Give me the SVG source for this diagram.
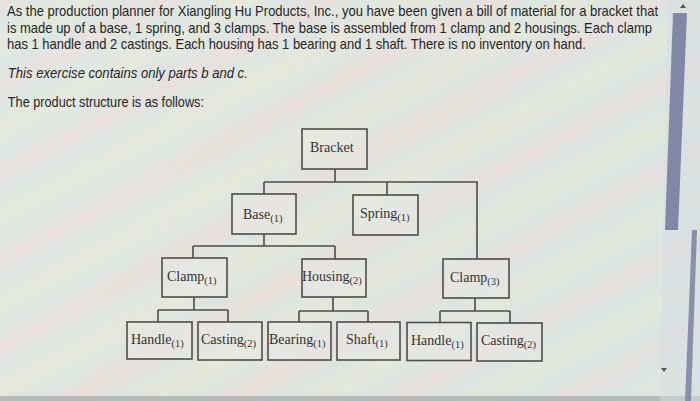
<svg xmlns="http://www.w3.org/2000/svg" width="700" height="401" viewBox="0 0 700 401">
<defs>
<linearGradient id="bg" x1="0" y1="0" x2="700" y2="401" gradientUnits="userSpaceOnUse">
<stop offset="0" stop-color="#e4e8e2"/>
<stop offset="0.5" stop-color="#e6e4dc"/>
<stop offset="1" stop-color="#dde6e2"/>
</linearGradient>
<linearGradient id="stripes" x1="0" y1="0" x2="18" y2="34" gradientUnits="userSpaceOnUse" spreadMethod="reflect">
<stop offset="0" stop-color="#f0d6d6"/>
<stop offset="0.5" stop-color="#cfe6e6"/>
<stop offset="1" stop-color="#e8ecd2"/>
</linearGradient>
<style>
.t{font-family:"Liberation Sans",Arial,sans-serif;font-size:14px;fill:#262626}
.i{font-style:italic}
.box{fill:#e8e8e4;fill-opacity:0.45;stroke:#4d4d4d;stroke-width:1.6}
.lbl{font-family:"Liberation Serif","Times New Roman",serif;font-size:14px;fill:#333}
.sub{font-size:10.5px}
#connectors path{fill:none;stroke:#4d4d4d;stroke-width:1.6}
</style>
</defs>
<rect width="700" height="401" fill="url(#bg)"/>
<rect width="700" height="401" fill="url(#stripes)" opacity="0.35"/>
<rect x="0" y="396" width="700" height="5" fill="#9a9ca0" opacity="0.6"/>

<g id="scrollbar">
<polygon points="668,0 700,0 700,401 660,401" fill="#d8dce2" opacity="0.5"/>
<polygon points="673,13 687,13 678,230 665,230" fill="#8088a6"/>
<polygon points="692,230 697,230 691,401 685,401" fill="#8a90aa"/>
<polygon points="680,8 686,8 683,4" fill="#555"/>
<polygon points="661,368 667,368 664,372" fill="#555"/>
</g>

<g id="intro" transform="translate(7,0) scale(0.86,1)">
<text class="t" x="0" y="16.5" textLength="757" lengthAdjust="spacingAndGlyphs">As the production planner for Xiangling Hu Products, Inc., you have been given a bill of material for a bracket that</text>
<text class="t" x="0" y="33" textLength="750" lengthAdjust="spacingAndGlyphs">is made up of a base, 1 spring, and 3 clamps. The base is assembled from 1 clamp and 2 housings. Each clamp</text>
<text class="t" x="0" y="49" textLength="673" lengthAdjust="spacingAndGlyphs">has 1 handle and 2 castings. Each housing has 1 bearing and 1 shaft. There is no inventory on hand.</text>
<text class="t i" x="1" y="78" textLength="279" lengthAdjust="spacingAndGlyphs">This exercise contains only parts b and c.</text>
<text class="t" x="1" y="107" textLength="228" lengthAdjust="spacingAndGlyphs">The product structure is as follows:</text>
</g>

<g id="connectors">
<path d="M335,169 V182 M264,182 H478 M264,182 V194 M387,182 V195 M477,182 V259"/>
<path d="M264,234 V246 M193,246 H335 M193,246 V258 M335,246 V259"/>
<path d="M194,297 V310 M158,310 H228 M158,310 V322 M228,310 V322"/>
<path d="M333,297 V311 M299,311 H368 M299,311 V322 M368,311 V322"/>
<path d="M475,298 V311 M440,311 H510 M440,311 V322.5 M510,311 V323"/>
</g>

<g id="bracket"><rect class="box" x="302" y="129" width="65" height="40"/><text class="lbl" x="310" y="152">Bracket</text></g>
<g id="base"><rect class="box" x="232" y="194" width="64" height="40"/><text class="lbl" x="243" y="219">Base<tspan class="sub" dy="3">(1)</tspan></text></g>
<g id="spring"><rect class="box" x="353" y="195" width="65" height="40"/><text class="lbl" x="360" y="218">Spring<tspan class="sub" dy="3">(1)</tspan></text></g>
<g id="clamp1"><rect class="box" x="162" y="258" width="65" height="39"/><text class="lbl" x="167" y="281">Clamp<tspan class="sub" dy="3">(1)</tspan></text></g>
<g id="housing"><rect class="box" x="302" y="259" width="64" height="38"/><text class="lbl" x="302" y="281">Housing<tspan class="sub" dy="3">(2)</tspan></text></g>
<g id="clamp3"><rect class="box" x="443" y="259" width="66" height="39"/><text class="lbl" x="450" y="282">Clamp<tspan class="sub" dy="3">(3)</tspan></text></g>
<g id="handle1"><rect class="box" x="127" y="322" width="65" height="37"/><text class="lbl" x="131" y="344">Handle<tspan class="sub" dy="3">(1)</tspan></text></g>
<g id="casting1"><rect class="box" x="198" y="322" width="64" height="38"/><text class="lbl" x="201" y="344">Casting<tspan class="sub" dy="3">(2)</tspan></text></g>
<g id="bearing"><rect class="box" x="268" y="322" width="63" height="38"/><text class="lbl" x="269" y="344">Bearing<tspan class="sub" dy="3">(1)</tspan></text></g>
<g id="shaft"><rect class="box" x="337" y="322" width="63" height="38"/><text class="lbl" x="346" y="344">Shaft<tspan class="sub" dy="3">(1)</tspan></text></g>
<g id="handle2"><rect class="box" x="407" y="322.5" width="64" height="38"/><text class="lbl" x="411" y="345">Handle<tspan class="sub" dy="3">(1)</tspan></text></g>
<g id="casting2"><rect class="box" x="477" y="323" width="65" height="38"/><text class="lbl" x="481" y="345">Casting<tspan class="sub" dy="3">(2)</tspan></text></g>
</svg>
